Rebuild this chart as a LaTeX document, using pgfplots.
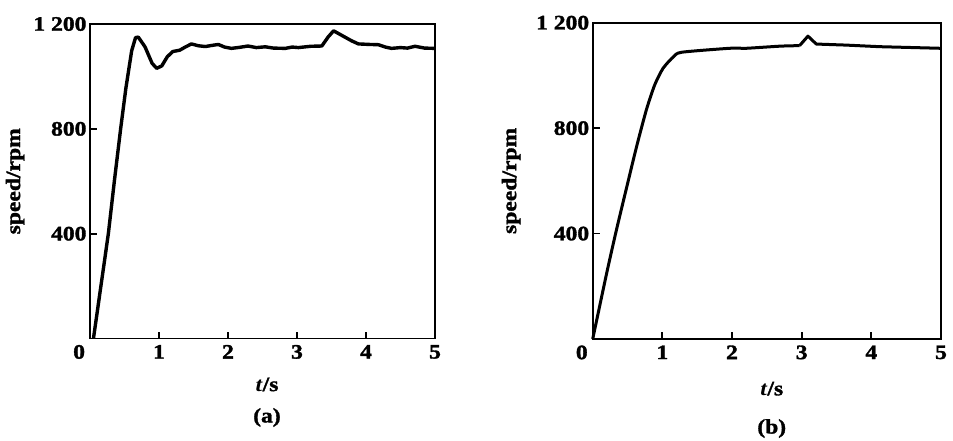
\documentclass[border=0pt]{standalone}
\usepackage{fontspec}
\setmainfont{Liberation Serif}[FakeStretch=1.15, BoldFeatures={FakeBold=1.6}]
\usepackage{pgfplots}
\pgfplotsset{compat=1.18}

\newcommand\lab{\fontsize{20.5}{24}\selectfont\bfseries}

\pgfplotsset{
  speedax/.style={
    scale only axis,
    anchor=south west,
    clip=false,
    xmin=0, xmax=5, ymin=0, ymax=1200,
    xtick={0,1,2,3,4,5},
    xticklabels={\makebox[0pt][r]{0\hspace{5pt}},1,2,3,4,5},
    ytick={0,400,800,1200},
    yticklabels={,400,800,1~200},
    tick pos=left,
    tick align=inside,
    major tick length=7pt,
    every tick/.style={black, line width=1.8pt},
    axis line style={line width=1.9pt},
    /pgf/number format/assume math mode=true,
    tick label style={font=\lab},
    xticklabel style={yshift=-3pt},
    label style={font=\lab},
    ylabel={speed/rpm},
    xlabel={\textit{t}/s},
  },
}

\begin{document}
\begin{tikzpicture}
\useasboundingbox (0pt,0pt) rectangle (953pt,440pt);

% (a)
\begin{axis}[speedax,
    at={(90pt,101.5pt)}, width=345pt, height=314.5pt,
    ylabel style={at={(axis description cs:-0.217,0.5)}, anchor=center, rotate=0},
    xlabel style={at={(axis description cs:0.513,-0.146)}, anchor=center},
]
\addplot[black, line width=3.4pt, line join=round] coordinates {
  (0.05,0) (0.157,198) (0.266,400) (0.355,605) (0.444,800) (0.52,955)
  (0.604,1098) (0.66,1148) (0.70,1150) (0.797,1113) (0.90,1050) (0.966,1031)
  (1.04,1040) (1.12,1075) (1.20,1095) (1.30,1100) (1.38,1112) (1.47,1124)
  (1.57,1117) (1.67,1114) (1.76,1118) (1.86,1122) (1.95,1112) (2.05,1107)
  (2.17,1111) (2.29,1116) (2.41,1110) (2.54,1113) (2.66,1108) (2.83,1107)
  (2.93,1112) (3.02,1110) (3.20,1115) (3.36,1116) (3.45,1150) (3.53,1174)
  (3.66,1155) (3.79,1136) (3.89,1124) (4.05,1122) (4.18,1121) (4.28,1112)
  (4.37,1107) (4.50,1110) (4.60,1108) (4.71,1115) (4.85,1108) (5.0,1107)
};
\node[font=\lab] at (axis description cs:0.513,-0.251) {(a)};
\end{axis}

% (b)
\begin{axis}[speedax,
    at={(592.7pt,101pt)}, width=348.3pt, height=316.3pt,
    ylabel style={at={(axis description cs:-0.234,0.5)}, anchor=center, rotate=0},
    xlabel style={at={(axis description cs:0.514,-0.157)}, anchor=center},
]
\addplot[black, line width=3pt, line join=round, smooth, tension=0.4] coordinates {
  (0.0,0) (0.20,249) (0.34,413) (0.49,578) (0.63,730) (0.77,869)
  (0.89,964) (1.01,1027) (1.16,1071) (1.28,1088) (1.97,1103) (2.21,1103)
  (2.69,1111) (2.97,1113)
};
\addplot[black, line width=3pt, line join=round] coordinates {
  (2.97,1113) (3.09,1149) (3.21,1119) (3.64,1115) (4.12,1109)
  (4.98,1103) (5.0,1103)
};
\node[font=\lab] at (axis description cs:0.514,-0.283) {(b)};
\end{axis}
\end{tikzpicture}
\end{document}
